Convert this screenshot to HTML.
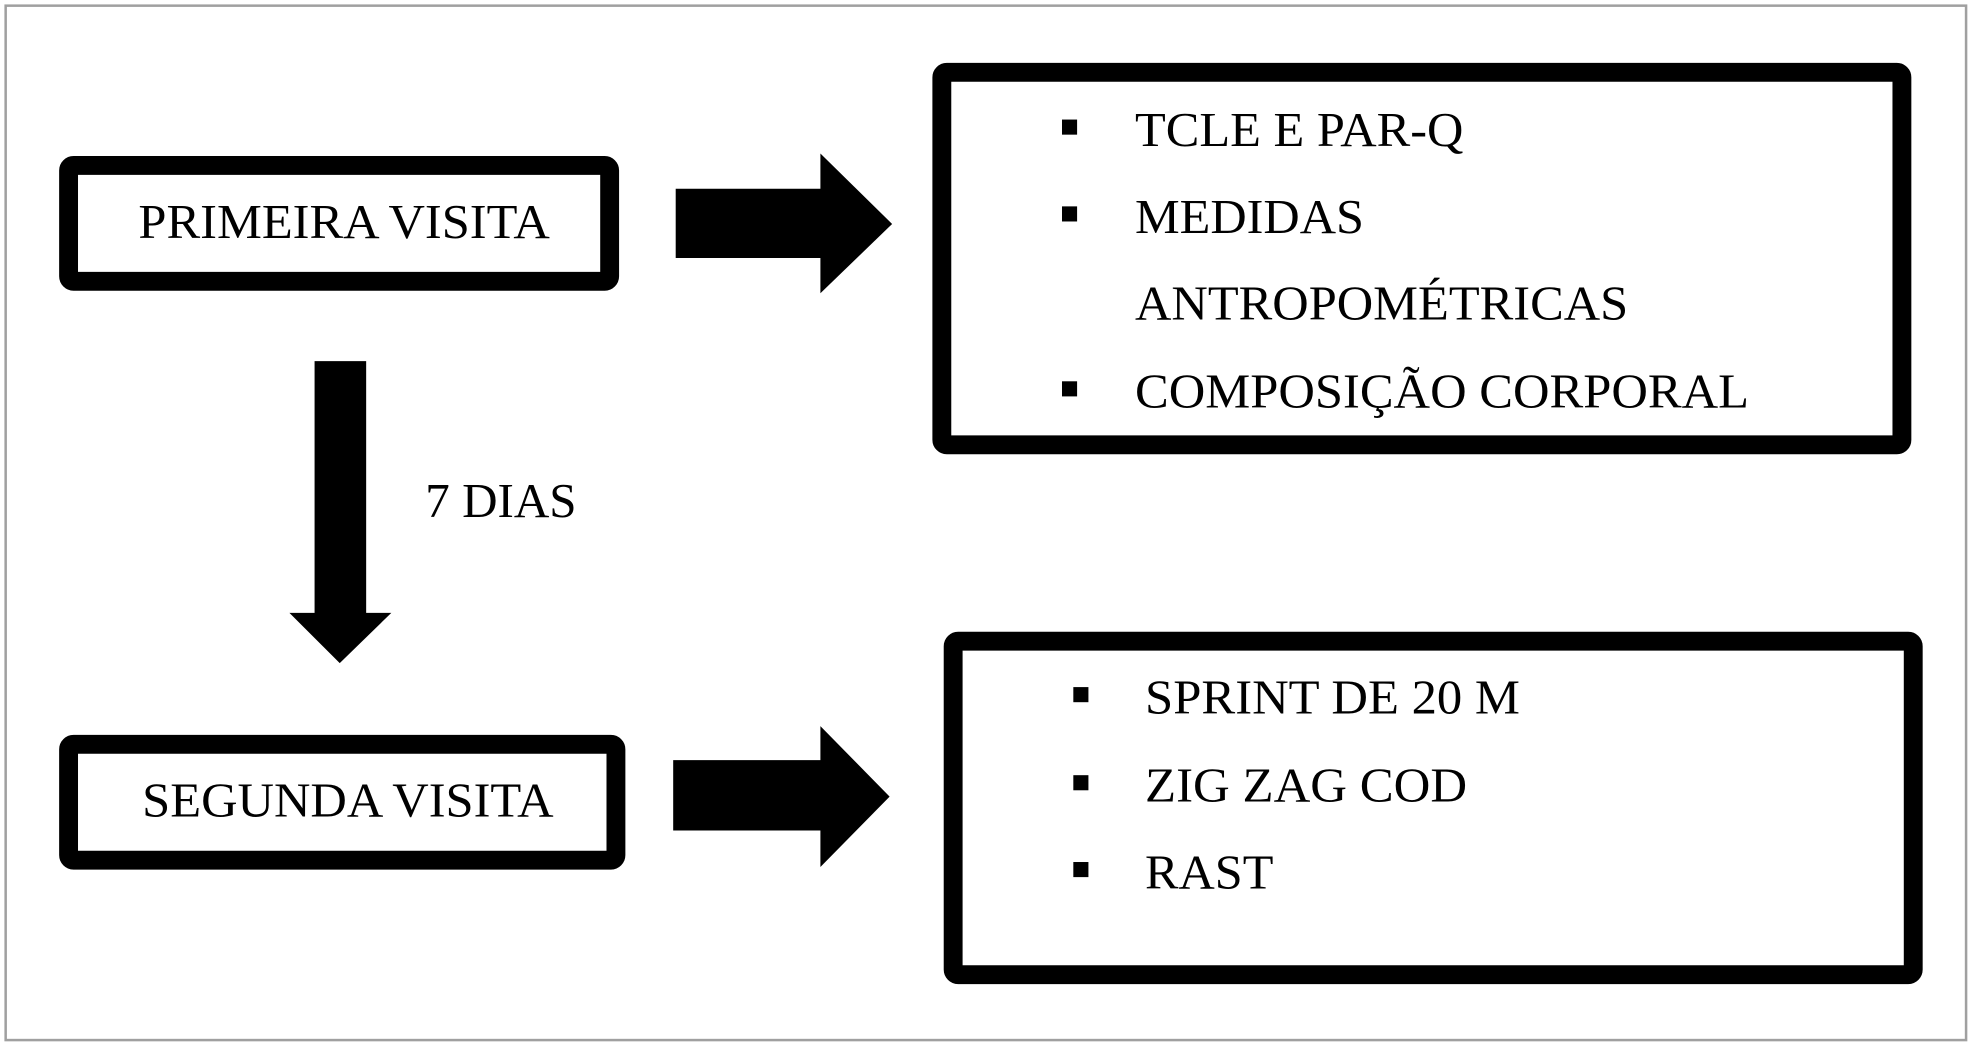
<!DOCTYPE html>
<html><head><meta charset="utf-8"><style>html,body{margin:0;padding:0;background:#fff}svg{display:block}</style></head>
<body>
<svg width="1973" height="1047" viewBox="0 0 1568 832" preserveAspectRatio="none" xmlns="http://www.w3.org/2000/svg">
<rect x="0" y="0" width="1568" height="832" fill="#fff"/>
<rect x="4.5" y="4.5" width="1558" height="822" fill="none" stroke="#a0a0a0" stroke-width="2"/>
<g fill="none" stroke="#000" stroke-width="15">
<rect x="54.5" y="131.5" width="430" height="92" rx="4"/>
<rect x="748.5" y="57.5" width="763" height="296" rx="4"/>
<rect x="54.5" y="591.5" width="435" height="92" rx="4"/>
<rect x="757.5" y="509.5" width="763" height="265" rx="4"/>
</g>
<g fill="#000">
<polygon points="537,150 652,150 652,122 709,178 652,233 652,205 537,205"/>
<polygon points="535,604 652,604 652,577 707,633 652,689 652,660 535,660"/>
<polygon points="250,287 291,287 291,487 311,487 270,527 230,487 250,487"/>
<rect x="844" y="95" width="12" height="12"/>
<rect x="844" y="164" width="12" height="12"/>
<rect x="844" y="303" width="12" height="12"/>
<rect x="853" y="546" width="12" height="12"/>
<rect x="853" y="616" width="12" height="12"/>
<rect x="853" y="685" width="12" height="12"/>
</g>
<g font-family="Liberation Serif, serif" font-size="39" fill="#000">
<text x="110" y="189" textLength="327" lengthAdjust="spacingAndGlyphs">PRIMEIRA VISITA</text>
<text x="113" y="649" textLength="327" lengthAdjust="spacingAndGlyphs">SEGUNDA VISITA</text>
<text x="338" y="411">7 DIAS</text>
<text x="902" y="116" textLength="261" lengthAdjust="spacingAndGlyphs">TCLE E PAR-Q</text>
<text x="902" y="185" textLength="182" lengthAdjust="spacingAndGlyphs">MEDIDAS</text>
<text x="902" y="254" textLength="392" lengthAdjust="spacingAndGlyphs">ANTROPOMÉTRICAS</text>
<text x="902" y="324" textLength="488" lengthAdjust="spacingAndGlyphs">COMPOSIÇÃO CORPORAL</text>
<text x="910" y="567" textLength="298" lengthAdjust="spacingAndGlyphs">SPRINT DE 20 M</text>
<text x="910" y="637" textLength="256" lengthAdjust="spacingAndGlyphs">ZIG ZAG COD</text>
<text x="910" y="706" textLength="102" lengthAdjust="spacingAndGlyphs">RAST</text>
</g>
</svg>
</body></html>
